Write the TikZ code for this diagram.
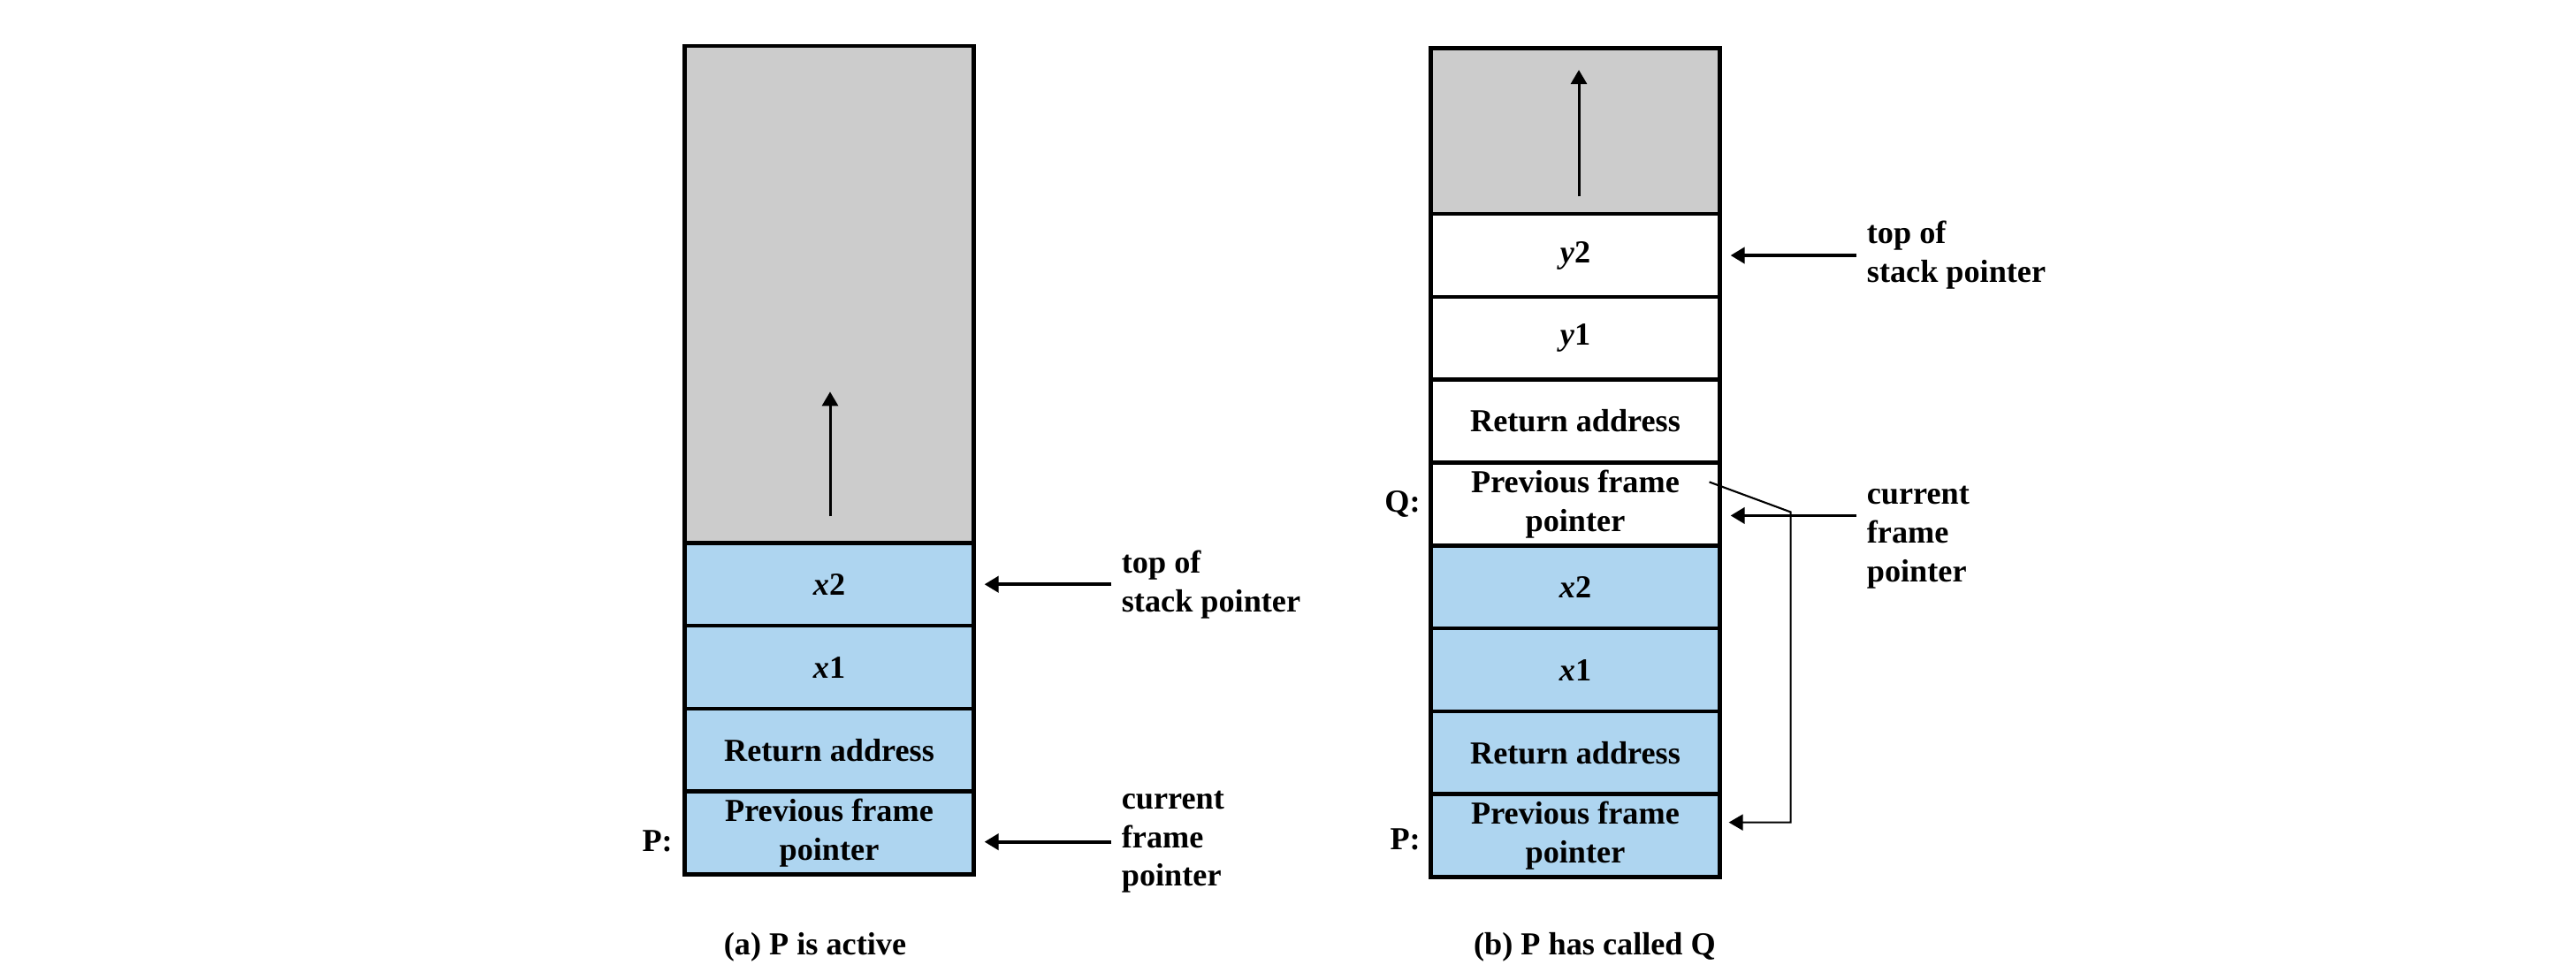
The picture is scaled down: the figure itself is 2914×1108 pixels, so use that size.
\documentclass[tikz,border=0pt]{standalone}
\usepackage{fontspec}
\setmainfont{Liberation Serif}
\usetikzlibrary{positioning,calc,arrows.meta}

\definecolor{freegray}{RGB}{204,204,204}
\definecolor{frameblue}{RGB}{174,213,240}

\begin{document}
\begin{tikzpicture}[x=0.01cm, y=-0.01cm,
    font=\fontsize{10.3}{12.5}\selectfont\bfseries]
        \tikzset{cell/.style={draw, line width=1.3pt, outer sep=0pt, inner sep=0pt,
            minimum width=3.27cm, minimum height=0.9375cm, align=center}}
        \tikzset{cellP/.style={cell, fill=frameblue}}
        \tikzset{cellQ/.style={cell, fill=white}}
        \tikzset{cellfree/.style={cell, fill=freegray}}
        \tikzset{ptr/.style={-{Triangle[length=0.16cm,width=0.18cm]}, line width=1.1pt,
            shorten <=0.11cm, shorten >=0.12cm}}
        \tikzset{upward/.style={-{Triangle[length=0.16cm,width=0.18cm]}, line width=0.85pt}}
        \tikzset{backlink/.style={-{Triangle[length=0.16cm,width=0.18cm]}, line width=0.6pt,
            shorten >=0.1cm}}
        \tikzset{ptrlabel/.style={align=left, inner sep=0pt}}
        \tikzset{proclabel/.style={inner sep=0pt}}

        \useasboundingbox (0,0) rectangle (2914,1108);

        % (a) P is active
        \node[cellfree, minimum height=5.62cm, anchor=north] (freeA) at (938,52) {};
        \node[cellP, below=0pt of freeA] (xtwoA) {{\itshape x}2};
        \node[cellP, below=0pt of xtwoA] (xoneA) {{\itshape x}1};
        \node[cellP, below=0pt of xoneA] (retA) {Return address};
        \node[cellP, below=0pt of retA] (pfpA) {Previous frame\\pointer};

        \draw[upward] ($(freeA.south)+(1,-30)$) -- ++(0,-141);

        \node[proclabel, left=0.13cm of pfpA.west, yshift=-0.09cm] (procPA) {P:};

        \node[ptrlabel, right=1.665cm of xtwoA.east] (tosA) {top of\\stack pointer};
        \node[ptrlabel, right=1.665cm of pfpA.east, yshift=-0.1cm] (cfpA) {current\\frame\\pointer};
        \draw[ptr] (tosA.west) -- (tosA.west -| xtwoA.east);
        \draw[ptr] (cfpA.west) -- (cfpA.west -| pfpA.east);

        \node (capA) at (922,1072) {(a) P is active};

        % (b) P has called Q
        \node[cellfree, minimum height=1.875cm, anchor=north] (freeB) at (1782,54.5) {};
        \node[cellQ, below=0pt of freeB] (ytwoB) {{\itshape y}2};
        \node[cellQ, below=0pt of ytwoB] (yoneB) {{\itshape y}1};
        \node[cellQ, below=0pt of yoneB] (retQB) {Return address};
        \node[cellQ, below=0pt of retQB] (qpfpB) {Previous frame\\pointer};
        \node[cellP, below=0pt of qpfpB] (xtwoB) {{\itshape x}2};
        \node[cellP, below=0pt of xtwoB] (xoneB) {{\itshape x}1};
        \node[cellP, below=0pt of xoneB] (retPB) {Return address};
        \node[cellP, below=0pt of retPB] (ppfpB) {Previous frame\\pointer};

        \draw[upward] ($(freeB.south)+(4,-20)$) -- ++(0,-143);

        \node[proclabel, left=0.11cm of qpfpB.west] (procQB) {Q:};
        \node[proclabel, left=0.11cm of ppfpB.west, yshift=-0.04cm] (procPB) {P:};

        \node[ptrlabel, right=1.655cm of ytwoB.east] (tosB) {top of\\stack pointer};
        \node[ptrlabel, right=1.655cm of qpfpB.east, yshift=-0.38cm] (cfpB) {current\\frame\\pointer};
        \coordinate (cfpBtail) at ([yshift=0.25cm]cfpB.west);
        \draw[ptr] (tosB.west) -- (tosB.west -| ytwoB.east);
        \draw[ptr] (cfpBtail) -- (cfpBtail -| qpfpB.east);

        % saved frame pointer of Q leads back to P
        \coordinate (qfrom) at ($(qpfpB.east)+(-12,-25)$);
        \coordinate (qbend) at ($(qpfpB.east)+(80,9)$);
        \draw[backlink] (qfrom) -- (qbend) |- ([yshift=0.15cm]ppfpB.east);

        \node (capB) at (1804,1072) {(b) P has called Q};
\end{tikzpicture}
\end{document}
